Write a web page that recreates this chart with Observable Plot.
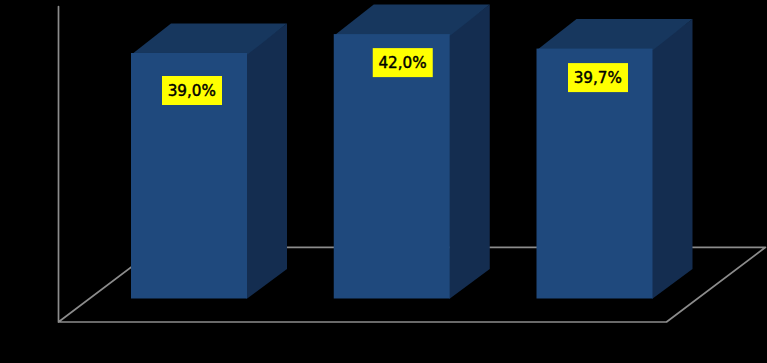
<!DOCTYPE html>
<html>
<head>
<meta charset="utf-8">
<script src="https://cdn.jsdelivr.net/npm/d3@7"></script>
<script src="https://cdn.jsdelivr.net/npm/@observablehq/plot@0.6"></script>
<style>html,body{margin:0;padding:0;background:#000;overflow:hidden}svg{display:block}</style>
</head>
<body>
<div id="chart"></div>
<script>
const categories = [0, 1, 2];
const values = [39.0, 42.0, 39.7];
const labels = ["39,0%", "42,0%", "39,7%"];

// Layout, in data units of the two scales
const PX = 202.75, PY = 6.295;
const halfBar = 58 / PX, depthX = 39.5 / PX, depthY = 30 / PY;
const labelDx = [3, 11, 3.5].map(d => d / PX);
const labelDrop = [37.5, 28.5, 29].map(d => d / PY);
const boxHalfW = 30 / PX, boxHalfH = 14.5 / PY;

const bars = categories.map((c, i) => ({c, v: values[i], label: labels[i],
  lx: c + labelDx[i], ly: values[i] - labelDrop[i]}));

const poly = (name, f) => bars.flatMap(b => f(b).map(([x, y]) => ({x, y, z: name + b.c})));
const side = poly("s", b => [[b.c + halfBar - 1 / PX, 0], [b.c + halfBar + depthX, depthY],
  [b.c + halfBar + depthX, b.v + depthY], [b.c + halfBar - 1 / PX, b.v]]);
const top3d = poly("t", b => [[b.c - halfBar, b.v - 1 / PY], [b.c - halfBar + depthX, b.v + depthY],
  [b.c + halfBar + depthX, b.v + depthY], [b.c + halfBar, b.v - 1 / PY]]);

const X = px => (px - 189) / PX, Y = py => (298.5 - py) / PY;
const floor = [[58, 6], [58, 321.5], [666, 321.5], [765, 246.8], [157, 246.8], [58, 321.5]]
  .map(([x, y]) => ({x: X(x), y: Y(y)}));

const plot = Plot.plot({
  width: 767, height: 363,
  margin: 0,
  style: {background: "#000"},
  x: {domain: [X(0), X(767)], range: [0, 767], axis: null},
  y: {domain: [Y(363), Y(0)], range: [363, 0], axis: null},
  marks: [
    Plot.line(floor, {x: "x", y: "y", stroke: "#8c8c8c", strokeWidth: 1.7, curve: "linear"}),
    Plot.line(side, {x: "x", y: "y", z: "z", fill: "#142d50", stroke: "none", curve: "linear"}),
    Plot.line(top3d, {x: "x", y: "y", z: "z", fill: "#17375e", stroke: "none", curve: "linear"}),
    Plot.rect(bars, {x1: d => d.c - halfBar, x2: d => d.c + halfBar, y1: 0, y2: "v", fill: "#1f497d", inset: 0}),
    Plot.rect(bars, {x1: d => d.lx - boxHalfW, x2: d => d.lx + boxHalfW,
      y1: d => d.ly - boxHalfH, y2: d => d.ly + boxHalfH, fill: "#ffff00"}),
    Plot.text(bars, {x: d => d.lx - 0.7 / PX, y: "ly", text: "label", fill: "#000", stroke: "#000", strokeWidth: 0.45,
      fontSize: 15.2, fontFamily: "'DejaVu Sans', sans-serif", textAnchor: "middle"})
  ]
});
document.getElementById("chart").append(plot);
</script>
</body>
</html>
